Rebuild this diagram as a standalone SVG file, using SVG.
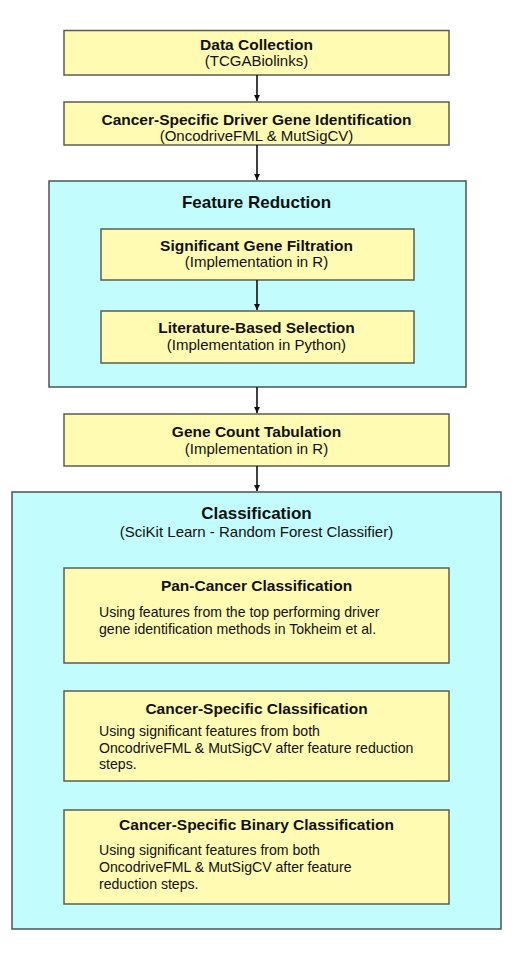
<svg xmlns="http://www.w3.org/2000/svg" width="514" height="960" viewBox="0 0 514 960">
<style>
.box{fill:#FFFBB3;stroke:#5a5e55;stroke-width:1.5}
.cont{fill:#C2FCFC;stroke:#4a5552;stroke-width:1.5}
.t{font-family:"Liberation Sans",Arial,Helvetica,sans-serif;fill:#111;text-anchor:middle}
.b{font-weight:bold;font-size:15.5px}
.h{font-weight:bold;font-size:17px}
.r{font-size:15px}
.l{text-anchor:start;font-size:14.1px}
.c{stroke:#111;stroke-width:1.6;fill:none}
</style>
<defs>
<marker id="ah" markerWidth="8" markerHeight="8" refX="6" refY="3" orient="auto" markerUnits="userSpaceOnUse">
<path d="M0,0 L6,3 L0,6 z" fill="#111"/>
</marker>
</defs>
<rect width="514" height="960" fill="#fff"/>
<g id="data-collection">
<rect class="box" x="64" y="30.5" width="385" height="44.5"/>
<text class="t b" x="256.5" y="50">Data Collection</text>
<text class="t r" x="256.5" y="66">(TCGABiolinks)</text>
</g>
<g id="driver-gene-identification">
<rect class="box" x="64" y="102" width="385" height="43"/>
<text class="t b" x="256.5" y="125">Cancer-Specific Driver Gene Identification</text>
<text class="t r" x="256.5" y="141">(OncodriveFML &amp; MutSigCV)</text>
</g>
<g id="feature-reduction">
<rect class="cont" x="49" y="181" width="417" height="206"/>
<text class="t h" x="256.5" y="208">Feature Reduction</text>
</g>
<g id="significant-gene-filtration">
<rect class="box" x="101" y="229" width="313" height="51"/>
<text class="t b" x="256.5" y="251">Significant Gene Filtration</text>
<text class="t r" x="256.5" y="267">(Implementation in R)</text>
</g>
<g id="literature-based-selection">
<rect class="box" x="101" y="311" width="313" height="52"/>
<text class="t b" x="256.5" y="333">Literature-Based Selection</text>
<text class="t r" x="256.5" y="350">(Implementation in Python)</text>
</g>
<g id="gene-count-tabulation">
<rect class="box" x="64" y="414" width="385" height="52"/>
<text class="t b" x="256.5" y="437">Gene Count Tabulation</text>
<text class="t r" x="256.5" y="454">(Implementation in R)</text>
</g>
<g id="classification">
<rect class="cont" x="12" y="492" width="489" height="437"/>
<text class="t h" x="256.5" y="519">Classification</text>
<text class="t r" x="256.5" y="537">(SciKit Learn - Random Forest Classifier)</text>
</g>
<g id="pan-cancer-classification">
<rect class="box" x="64" y="568" width="385" height="95"/>
<text class="t b" x="256.5" y="591">Pan-Cancer Classification</text>
<text class="t l" x="99" y="617">Using features from the top performing driver</text>
<text class="t l" x="99" y="634">gene identification methods in Tokheim et al.</text>
</g>
<g id="cancer-specific-classification">
<rect class="box" x="64" y="691" width="385" height="90"/>
<text class="t b" x="256.5" y="714">Cancer-Specific Classification</text>
<text class="t l" x="99" y="736">Using significant features from both</text>
<text class="t l" x="99" y="752.5">OncodriveFML &amp; MutSigCV after feature reduction</text>
<text class="t l" x="99" y="769">steps.</text>
</g>
<g id="cancer-specific-binary-classification">
<rect class="box" x="64" y="810" width="385" height="94"/>
<text class="t b" x="256.5" y="830">Cancer-Specific Binary Classification</text>
<text class="t l" x="99" y="855">Using significant features from both</text>
<text class="t l" x="99" y="872">OncodriveFML &amp; MutSigCV after feature</text>
<text class="t l" x="99" y="889">reduction steps.</text>
</g>
<g id="connectors">
<line class="c" x1="257" y1="75" x2="257" y2="101" marker-end="url(#ah)"/>
<line class="c" x1="257" y1="145" x2="257" y2="180" marker-end="url(#ah)"/>
<line class="c" x1="257" y1="280" x2="257" y2="310" marker-end="url(#ah)"/>
<line class="c" x1="257" y1="387" x2="257" y2="413" marker-end="url(#ah)"/>
<line class="c" x1="257" y1="466" x2="257" y2="491" marker-end="url(#ah)"/>
</g>
</svg>
